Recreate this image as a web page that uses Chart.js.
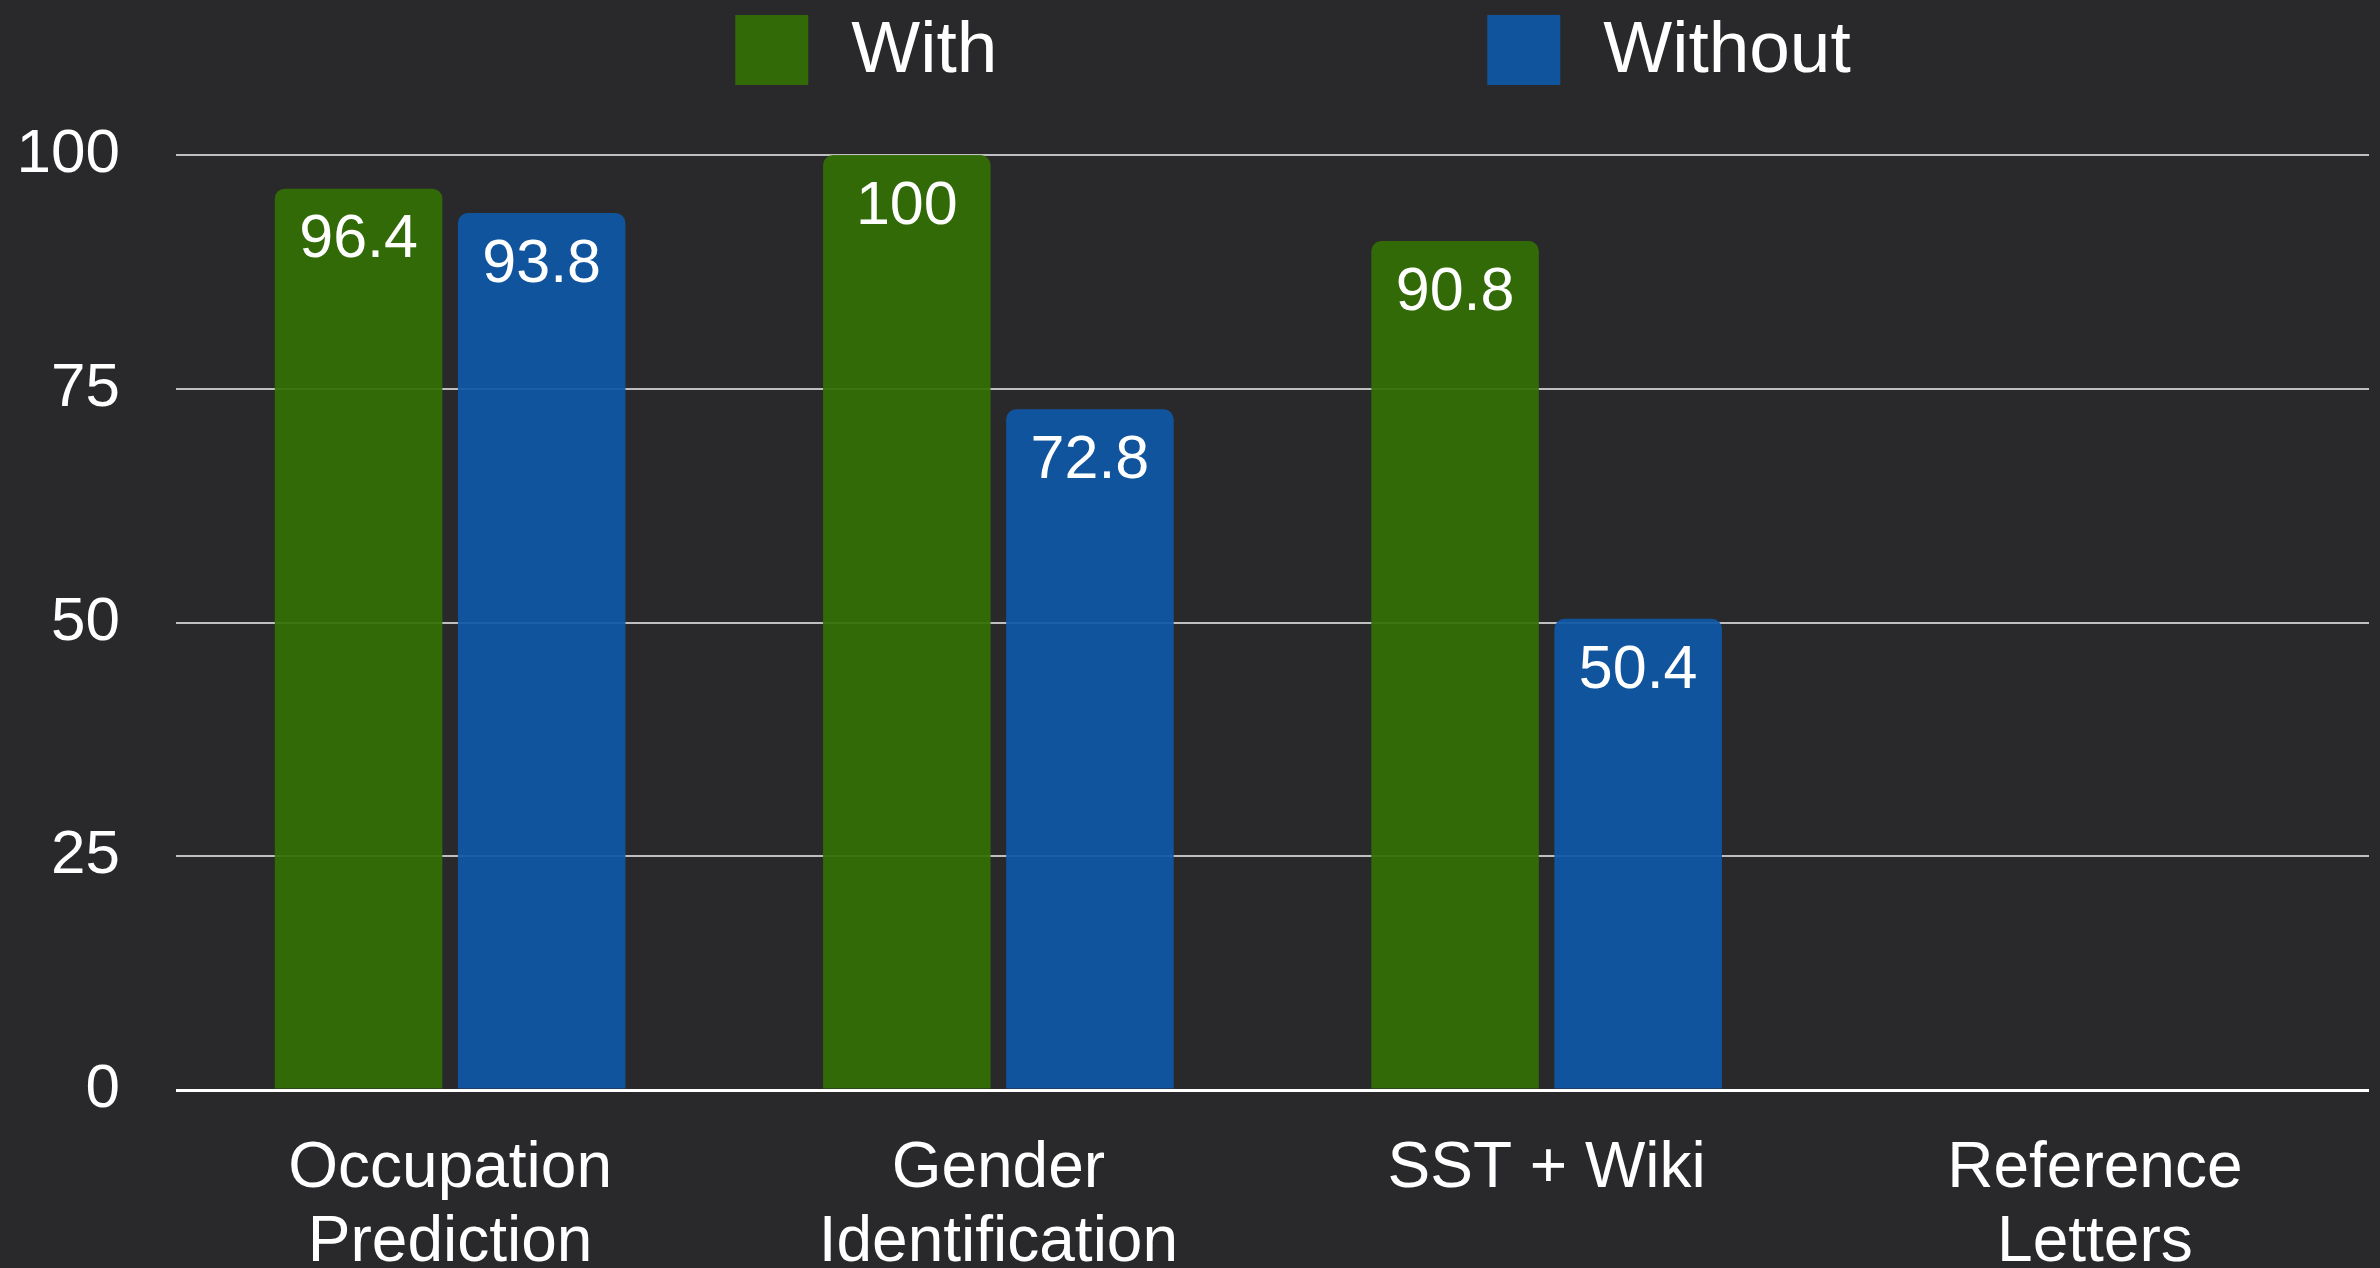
<!DOCTYPE html>
<html>
<head>
<meta charset="utf-8">
<script src="https://cdn.jsdelivr.net/npm/chart.js@4.4.1/dist/chart.umd.min.js"></script>
<style>
    html, body { margin: 0; padding: 0; background: #29292b; }
    #wrap { width: 2380px; height: 1268px; position: relative; }
</style>
</head>
<body>
<div id="wrap"><canvas id="chart"></canvas></div>
<script>
// ── Data ──────────────────────────────────────────────
const categories    = [['Occupation', 'Prediction'], ['Gender', 'Identification'], ['SST + Wiki'], ['Reference', 'Letters']];
const seriesNames   = ['With', 'Without'];
const withValues    = [96.4, 100, 90.8, null];
const withoutValues = [93.8, 72.8, 50.4, null];
const yTickValues   = [0, 25, 50, 75, 100];

const FONT = "'Liberation Sans', Helvetica, Arial, sans-serif";

// ── Background ────────────────────────────────────────
const bgPlugin = {
    id: 'bg',
    beforeDraw(chart) {
        const ctx = chart.ctx;
        ctx.save();
        ctx.fillStyle = '#29292b';
        ctx.fillRect(0, 0, chart.width, chart.height);
        ctx.restore();
    }
};

// ── Value labels inside the bar tops ──────────────────
const valueLabels = {
    id: 'valueLabels',
    afterDatasetsDraw(chart) {
        const ctx = chart.ctx;
        ctx.save();
        ctx.fillStyle = '#ffffff';
        ctx.font = '61px ' + FONT;
        ctx.textAlign = 'center';
        ctx.textBaseline = 'middle';
        chart.data.datasets.forEach((ds, di) => {
            chart.getDatasetMeta(di).data.forEach((bar, i) => {
                const v = ds.data[i];
                if (v === null || v === undefined) return;
                ctx.fillText(String(v), bar.x, bar.y + 52);
            });
        });
        ctx.restore();
    }
};

// ── Wide-spaced legend (built-in padding would push it down) ──
const gapLegend = {
    id: 'gapLegend',
    afterDraw(chart) {
        const ctx = chart.ctx;
        const boxW = 73, boxH = 70, textGap = 43, itemGap = 490;
        ctx.save();
        ctx.font = '73px ' + FONT;
        const items = chart.data.datasets.map(ds => ({
            text: ds.label,
            color: ds.backgroundColor,
            w: boxW + textGap + ctx.measureText(ds.label).width
        }));
        const total = items.reduce((s, it) => s + it.w, 0) + itemGap * (items.length - 1);
        let x = 1293 - total / 2;
        items.forEach(it => {
            ctx.fillStyle = it.color;
            ctx.fillRect(x, 15, boxW, boxH);
            ctx.fillStyle = '#ffffff';
            ctx.textAlign = 'left';
            ctx.textBaseline = 'middle';
            ctx.fillText(it.text, x + boxW + textGap, 52);
            x += it.w + itemGap;
        });
        ctx.restore();
    }
};

new Chart(document.getElementById('chart'), {
    type: 'bar',
    data: {
        labels: categories,
        datasets: [
            {
                label: seriesNames[0],
                data: withValues,
                backgroundColor: 'rgba(49,111,3,0.93)',
                borderRadius: { topLeft: 10, topRight: 10, bottomLeft: 0, bottomRight: 0 },
                borderSkipped: false,
                categoryPercentage: 0.668,
                barPercentage: 0.915
            },
            {
                label: seriesNames[1],
                data: withoutValues,
                backgroundColor: 'rgba(15,87,167,0.93)',
                borderRadius: { topLeft: 10, topRight: 10, bottomLeft: 0, bottomRight: 0 },
                borderSkipped: false,
                categoryPercentage: 0.668,
                barPercentage: 0.915
            }
        ]
    },
    options: {
        responsive: true,
        maintainAspectRatio: false,
        animation: false,
        layout: { padding: { top: 155, right: 11, bottom: 0, left: 0 } },
        plugins: {
            legend: { display: false },
            tooltip: { enabled: false }
        },
        scales: {
            x: {
                grid: { display: false },
                border: { display: false },
                ticks: {
                    color: '#ffffff',
                    font: { family: FONT, size: 64, lineHeight: 1.16 },
                    padding: 34,
                    maxRotation: 0,
                    autoSkip: false
                },
                afterFit: s => { s.height = 178; }
            },
            y: {
                min: 0,
                max: 100,
                afterBuildTicks: s => { s.ticks = yTickValues.map(v => ({ value: v })); },
                grid: {
                    drawTicks: false,
                    color: c => c.tick && c.tick.value === 0 ? '#ffffff' : 'rgba(255,255,255,0.7)',
                    lineWidth: c => c.tick && c.tick.value === 0 ? 3 : 2
                },
                border: { display: false },
                ticks: {
                    color: '#ffffff',
                    font: { family: FONT, size: 62 },
                    padding: 56
                },
                afterFit: s => { s.width = 176; }
            }
        }
    },
    plugins: [bgPlugin, valueLabels, gapLegend]
});
</script>
</body>
</html>
